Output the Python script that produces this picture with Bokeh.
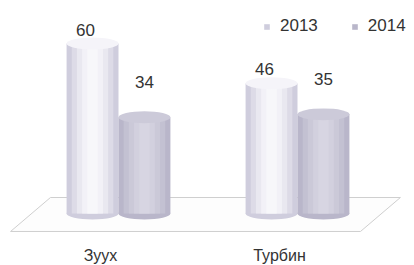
from bokeh.plotting import figure
from bokeh.models import ColumnDataSource, Range1d, Legend, LegendItem
from bokeh.transform import dodge
from bokeh.core.properties import value
from bokeh.embed import file_html
from bokeh.resources import INLINE

# ---- data ----
categories = ["Зуух", "Турбин"]
series_names = ["2013", "2014"]
values_2013 = [60, 46]
values_2014 = [34, 35]

# ---- styles ----
FONT = "Liberation Sans"
W, H = 414, 265
BAR_W = 0.29
CAP_H = 4.2
shades = {
    "2013": ["#cfcddd", "#dddbe7", "#e9e8f0", "#f2f1f7", "#f7f7fa"],
    "2014": ["#b9b6ca", "#c3c1d2", "#cbc9d8", "#d2d0de", "#d7d5e2"],
}
cap_color = {"2013": "#f5f4f9", "2014": "#cccad9"}
label_dy = {"2013": -14, "2014": -35}
label_dx = {"2013": -7, "2014": 0}
offsets = {"2013": -BAR_W / 2, "2014": BAR_W / 2}

p = figure(width=W, height=H, output_backend="svg", toolbar_location=None,
           x_range=Range1d(-0.6592, 1.6536), y_range=Range1d(-18.36, 75.19),
           min_border=0, background_fill_color="white", border_fill_color="white")
p.axis.visible = False
p.grid.visible = False
p.outline_line_color = None

# floor (decorative plane)
p.patch([-0.603, -0.380, 1.575, 1.352], [-6.35, 5.65, 5.65, -6.35],
        fill_color="#fdfdfd", line_color="#cfcfcf", line_width=1)

idx = list(range(len(categories)))
legend_renderers = {}
for name, vals in (("2013", values_2013), ("2014", values_2014)):
    src = ColumnDataSource(dict(x=idx, v=vals, base=[0] * len(vals),
                                lbl=[str(v) for v in vals]))
    xd = dodge("x", offsets[name])
    cols = shades[name]
    p.ellipse(x=xd, y="base", width=BAR_W, height=CAP_H, source=src,
              fill_color=cols[0], line_color=None)
    fracs = [1.0, 0.8, 0.6, 0.4, 0.2]
    first = None
    for f, c in zip(fracs, cols):
        r = p.vbar(x=xd, top="v", bottom="base", width=BAR_W * f, source=src,
                   fill_color=c, line_color=None)
        if first is None:
            first = r
    legend_renderers[name] = first
    p.ellipse(x=xd, y="v", width=BAR_W, height=CAP_H, source=src,
              fill_color=cap_color[name], line_color=None)
    p.text(x=xd, y="v", text="lbl", source=src, text_align="center",
           text_baseline="alphabetic", x_offset=label_dx[name], y_offset=label_dy[name],
           text_font=value(FONT), text_font_size="17px", text_color="#333333")

# category labels
csrc = ColumnDataSource(dict(x=idx, y=[-15.0] * len(idx), t=categories))
p.text(x="x", y="y", text="t", source=csrc, text_align="center",
       text_baseline="alphabetic", x_offset=-18,
       text_font=value(FONT), text_font_size="16px", text_color="#333333")

legend = Legend(items=[LegendItem(label=n, renderers=[legend_renderers[n]]) for n in series_names],
                orientation="horizontal", location=(263, 229),
                padding=0, margin=0, spacing=33, label_standoff=10,
                glyph_width=7, glyph_height=7, label_height=17,
                label_text_font=FONT, label_text_font_size="17px",
                label_text_color="#333333",
                border_line_color=None, background_fill_alpha=0)
p.add_layout(legend, "center")

open("out.html", "w").write(file_html(p, INLINE))
